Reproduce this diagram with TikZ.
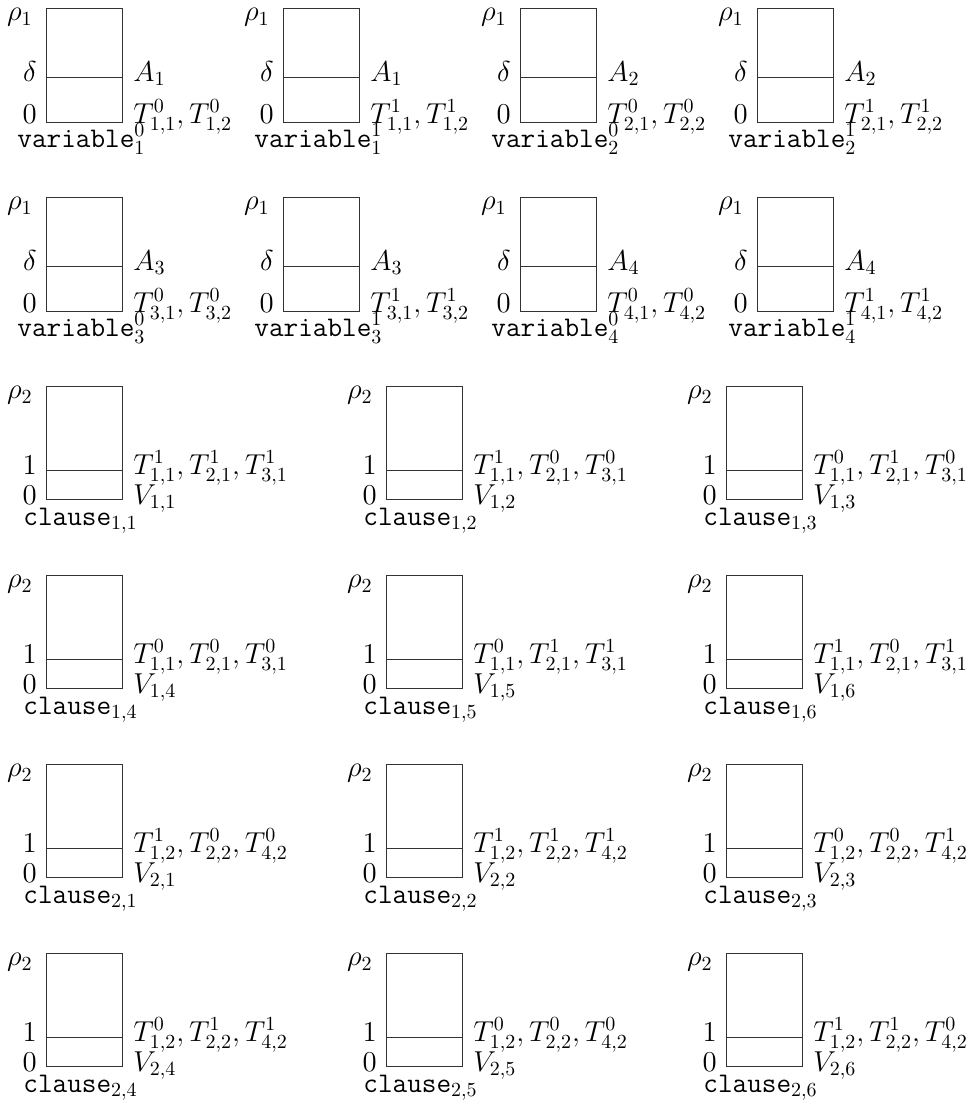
\documentclass[tikz,border=0pt]{standalone}
\usetikzlibrary{positioning}
\tikzset{
    cell/.style={draw=black!80, line width=0.5pt, minimum width=38pt, inner sep=0pt, anchor=north west},
    level/.style={draw=black!80, line width=0.5pt},
    lft/.style={inner sep=0pt, xshift=-4.5pt},
    rgt/.style={inner sep=0pt, xshift=5pt},
    tag/.style={inner sep=0pt, anchor=base west}
}
% name, x, y, variable, truth value
\newcommand{\varcell}[5]{%
    \node[cell, minimum height=57pt] (#1) at (#2,#3) {};
    \draw[level] ([yshift=23pt]#1.south west) coordinate (#1w) -- ([yshift=23pt]#1.south east) coordinate (#1e);
    \node[lft, xshift=-2pt, anchor=north east] (#1top) at (#1.north west) {$\rho_1$};
    \node[lft, anchor=mid east] (#1mid) at (#1w) {$\delta$};
    \node[lft, anchor=base east] (#1low) at (#1.south west) {$0$};
    \node[rgt, anchor=mid west] (#1a) at (#1e) {$A_{#4}$};
    \node[rgt, anchor=base west] (#1t) at (#1.south east) {$T^{#5}_{#4,1},T^{#5}_{#4,2}$};
    \node[tag] (#1name) at ([xshift=-14.5pt,yshift=-12pt]#1.south west) {\texttt{variable}$^{#5}_{#4}$};
}
% name, x, y, clause index, literals
\newcommand{\clausecell}[5]{%
    \node[cell, minimum height=56.5pt] (#1) at (#2,#3) {};
    \draw[level] ([yshift=15pt]#1.south west) coordinate (#1w) -- ([yshift=15pt]#1.south east) coordinate (#1e);
    \node[lft, xshift=-2pt, anchor=north east] (#1top) at (#1.north west) {$\rho_2$};
    \node[lft, anchor=mid east] (#1mid) at (#1w) {$1$};
    \node[lft, anchor=mid east] (#1low) at (#1.south west) {$0$};
    \node[rgt, anchor=mid west] (#1t) at (#1e) {$#5$};
    \node[rgt, anchor=mid west] (#1v) at (#1.south east) {$V_{#4}$};
    \node[tag] (#1name) at ([xshift=-11.5pt,yshift=-12.5pt]#1.south west) {\texttt{clause}$_{#4}$};
}

\begin{document}
\begin{tikzpicture}[x=0.5pt, y=-0.5pt, font=\fontsize{14.2}{17}\selectfont]
\useasboundingbox (0,0) rectangle (974,1103);

% variable gadgets
\varcell{xa}{46}{8}{1}{0}
\varcell{xb}{283}{8}{1}{1}
\varcell{xc}{520}{8}{2}{0}
\varcell{xd}{757}{8}{2}{1}
\varcell{xe}{46}{197}{3}{0}
\varcell{xf}{283}{197}{3}{1}
\varcell{xg}{520}{197}{4}{0}
\varcell{xh}{757}{197}{4}{1}

% clause gadgets
\clausecell{ca}{46}{386}{1,1}{T^1_{1,1},T^1_{2,1},T^1_{3,1}}
\clausecell{cb}{386}{386}{1,2}{T^1_{1,1},T^0_{2,1},T^0_{3,1}}
\clausecell{cc}{726}{386}{1,3}{T^0_{1,1},T^1_{2,1},T^0_{3,1}}
\clausecell{cd}{46}{575}{1,4}{T^0_{1,1},T^0_{2,1},T^0_{3,1}}
\clausecell{ce}{386}{575}{1,5}{T^0_{1,1},T^1_{2,1},T^1_{3,1}}
\clausecell{cf}{726}{575}{1,6}{T^1_{1,1},T^0_{2,1},T^1_{3,1}}
\clausecell{cg}{46}{764}{2,1}{T^1_{1,2},T^0_{2,2},T^0_{4,2}}
\clausecell{ch}{386}{764}{2,2}{T^1_{1,2},T^1_{2,2},T^1_{4,2}}
\clausecell{ci}{726}{764}{2,3}{T^0_{1,2},T^0_{2,2},T^1_{4,2}}
\clausecell{cj}{46}{953}{2,4}{T^0_{1,2},T^1_{2,2},T^1_{4,2}}
\clausecell{ck}{386}{953}{2,5}{T^0_{1,2},T^0_{2,2},T^0_{4,2}}
\clausecell{cl}{726}{953}{2,6}{T^1_{1,2},T^1_{2,2},T^0_{4,2}}
\end{tikzpicture}
\end{document}
